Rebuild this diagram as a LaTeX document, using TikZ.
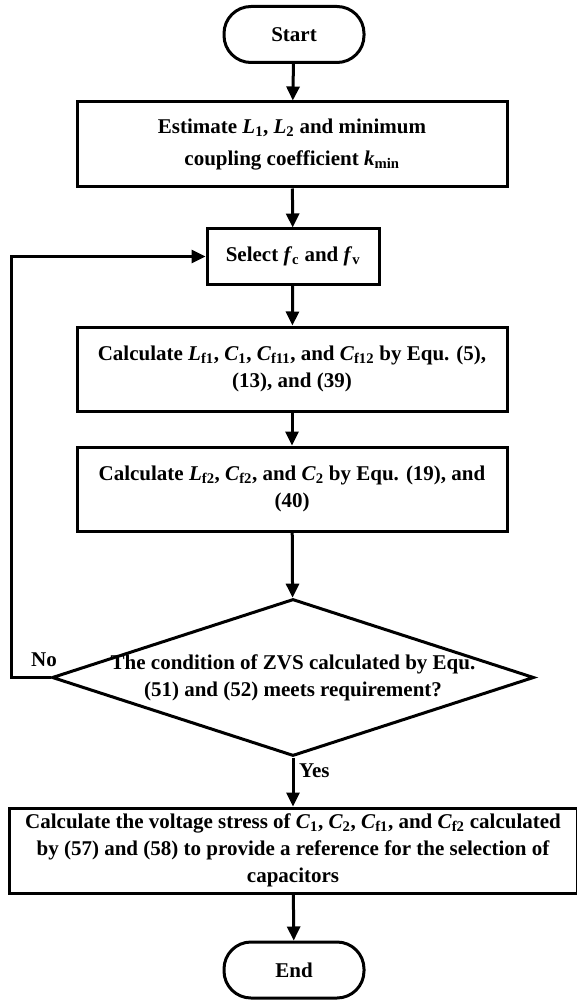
\documentclass[tikz,border=0pt]{standalone}
\usepackage{fontspec}
\setmainfont{Liberation Serif}
\usetikzlibrary{arrows.meta,shapes.geometric}
\newcommand\vsub[2]{\textit{#1}\textsubscript{#2}}
\begin{document}
\begin{tikzpicture}[x=1pt,y=-1pt,
  every node/.style={font=\fontsize{21}{27}\selectfont\bfseries, align=center, inner sep=0pt},
  term/.style={draw, line width=3pt, rounded corners=27pt, minimum width=140pt, minimum height=56pt},
  procbox/.style={draw, line width=3pt, minimum width=430pt, minimum height=85pt},
  decbox/.style={draw, line width=3pt, diamond, aspect=3.07, inner sep=-30pt, minimum width=482pt, minimum height=157pt},
  flow/.style={line width=3pt, -{Triangle[length=14pt,width=13pt]}},
  lbl/.style={font=\fontsize{21}{24}\selectfont\bfseries}]
\useasboundingbox (0,0) rectangle (576,1000);
\node[term] (start) at (294,34.5) {Start};
\node[procbox] (est) at (292,144.5) {Estimate \vsub{L}{1}, \vsub{L}{2} and minimum\\[5pt] coupling coefficient \vsub{k}{min}};
\node[procbox, minimum width=172pt, minimum height=55pt] (sel) at (293,256.5) {Select \vsub{f}{c} and \vsub{f}{v}};
\node[procbox, minimum height=84pt] (calc1) at (292,369) {Calculate \vsub{L}{f1}, \vsub{C}{1}, \vsub{C}{f11}, and \vsub{C}{f12} by Equ. (5),\\ (13), and (39)};
\node[procbox, minimum height=84pt] (calc2) at (292,489) {Calculate \vsub{L}{f2}, \vsub{C}{f2}, and \vsub{C}{2} by Equ. (19), and\\ (40)};
\node[decbox] (dec) at (293,677.5) {The condition of ZVS calculated by Equ.\\ (51) and (52) meets requirement?};
\node[procbox, minimum width=568pt, minimum height=85pt] (stress) at (293,850.5) {Calculate the voltage stress of \vsub{C}{1}, \vsub{C}{2}, \vsub{C}{f1}, and \vsub{C}{f2} calculated\\ by (57) and (58) to provide a reference for the selection of\\ capacitors};
\node[term] (end) at (294,970) {End};
\coordinate (lc) at (11,677.5);
\coordinate (tc) at (11,256.5);
\node[lbl] (no) at (44,660) {No};
\node[lbl, anchor=west] (yes) at (299,771) {Yes};
\draw[flow] (start) -- (est);
\draw[flow] (est) -- (sel);
\draw[flow] (sel) -- (calc1);
\draw[flow] (calc1) -- (calc2);
\draw[flow] (calc2) -- (dec);
\draw[flow] (dec) -- (stress);
\draw[flow] (stress) -- (end);
\draw[flow] (dec.west) -- (lc) -- (tc) -- (sel.west);
\end{tikzpicture}
\end{document}
